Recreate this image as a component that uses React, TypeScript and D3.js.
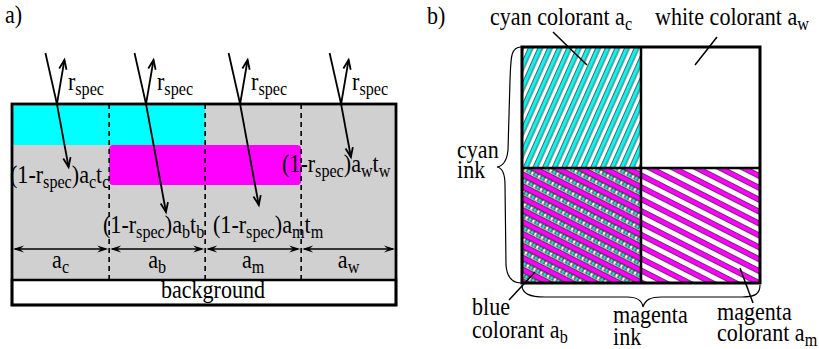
import React from "react";
import * as d3 from "d3";

const WIDTH = 819;
const HEIGHT = 349;
const FONT = "Liberation Serif, DejaVu Serif, serif";

// ---------- Panel a data ----------
const areaNames = ["c", "b", "m", "w"];
const areaShares = [0.253, 0.25, 0.25, 0.247];
// depth boundaries: surface, cyan bottom, magenta bottom, substrate bottom, background bottom
const layerDepths = [0, 41, 81, 176, 201];
const dimDepth = 145;
const dimLabelDepth = 164;
const cyanSpan = [0, 2]; // covers areas c and b
const magentaSpan = [1, 3]; // covers areas b and m
const rayPositions = [0.117, 0.349, 0.594, 0.857];
const rayTransDepths = [63, 108, 101, 53];
const transLabels = [
  "(1-r_{spec})a_{c}t_{c}",
  "(1-r_{spec})a_{b}t_{b}",
  "(1-r_{spec})a_{m}t_{m}",
  "(1-r_{spec})a_{w}t_{w}",
];
const transLabelPos: [number, number][] = [
  [10, 183],
  [103, 233],
  [213, 233],
  [282, 172],
];

// ---------- Panel b data ----------
const cyanInkShare = 0.5; // column share
const magentaInkShare = 0.487; // row share from bottom

// ---------- helpers ----------
function rich(s: string, subSize: number, shift: number) {
  const out: React.ReactNode[] = [];
  const re = /_\{([^}]*)\}/g;
  let last = 0;
  let m: RegExpExecArray | null;
  let inSub = false;
  let k = 0;
  while ((m = re.exec(s))) {
    const before = s.slice(last, m.index);
    if (before) {
      out.push(
        <tspan key={k++} dy={inSub ? -shift : 0}>
          {before}
        </tspan>
      );
      inSub = false;
    }
    out.push(
      <tspan key={k++} dy={inSub ? 0 : shift} fontSize={subSize}>
        {m[1]}
      </tspan>
    );
    inSub = true;
    last = m.index + m[0].length;
  }
  const rest = s.slice(last);
  if (rest) {
    out.push(
      <tspan key={k++} dy={inSub ? -shift : 0}>
        {rest}
      </tspan>
    );
  }
  return out;
}

function Label({
  x,
  y,
  s,
  anchor = "start",
}: {
  x: number;
  y: number;
  s: string;
  anchor?: string;
}) {
  return (
    <text
      transform={`translate(${x},${y}) scale(0.85,1)`}
      style={{ fontFamily: FONT, fontSize: "26px" }}
      textAnchor={anchor as any}
      fill="#000"
      stroke="none"
    >
      {rich(s, 19, 5)}
    </text>
  );
}

function openHead(tip: [number, number], from: [number, number], len = 10, ang = 0.38) {
  const a = Math.atan2(from[1] - tip[1], from[0] - tip[0]);
  const p1 = [tip[0] + len * Math.cos(a + ang), tip[1] + len * Math.sin(a + ang)];
  const p2 = [tip[0] + len * Math.cos(a - ang), tip[1] + len * Math.sin(a - ang)];
  return `M${p1[0]},${p1[1]}L${tip[0]},${tip[1]}L${p2[0]},${p2[1]}`;
}

function stealthHead(tip: [number, number], dir: number, len = 11, hw = 3.6) {
  const bx = tip[0] - dir * len;
  const nx = tip[0] - dir * len * 0.65;
  return `M${tip[0]},${tip[1]}L${bx},${tip[1] - hw}L${nx},${tip[1]}L${bx},${tip[1] + hw}Z`;
}

export default function App() {
  const xA = d3.scaleLinear().domain([0, 1]).range([12, 396]);
  const yA = d3.scaleLinear().domain([0, 201]).range([104, 305]);
  const bounds = [0, ...Array.from(d3.cumsum(areaShares))];

  const xB = d3.scaleLinear().domain([0, 1]).range([522, 760]);
  const yB = d3.scaleLinear().domain([0, 1]).range([47, 283]);
  const xSplit = xB(cyanInkShare);
  const ySplit = yB(1 - magentaInkShare);

  const surfaceY = yA(layerDepths[0]);
  const cyanC = "#14f0ec";
  const magC = "#ff00ff";

  return (
    <svg
      width={WIDTH}
      height={HEIGHT}
      style={{ position: "absolute", left: 0, top: 0, background: "#fff" }}
    >
      <defs>
        <pattern
          id="cyanHatch"
          patternUnits="userSpaceOnUse"
          width={20}
          height={8.8}
          patternTransform="rotate(-66)"
        >
          <rect width={20} height={8.8} fill="#fff" />
          <rect y={0.4} width={20} height={4.6} fill={cyanC} />
          <line x1={0} x2={20} y1={0.4} y2={0.4} stroke="#000" strokeWidth={0.6} />
          <line x1={0} x2={20} y1={5.0} y2={5.0} stroke="#000" strokeWidth={0.6} />
        </pattern>
        <pattern
          id="magHatch"
          patternUnits="userSpaceOnUse"
          width={20}
          height={10.6}
          patternTransform="rotate(27)"
        >
          <rect width={20} height={10.6} fill="#fff" />
          <rect y={0.4} width={20} height={5} fill={magC} />
          <line x1={0} x2={20} y1={0.4} y2={0.4} stroke="#000" strokeWidth={0.6} />
          <line x1={0} x2={20} y1={5.4} y2={5.4} stroke="#000" strokeWidth={0.6} />
        </pattern>
        <pattern
          id="blueHatch"
          patternUnits="userSpaceOnUse"
          width={7.6}
          height={10.6}
          patternTransform="rotate(27)"
        >
          <rect width={7.6} height={10.6} fill="#fff" />
          <rect y={0.4} width={7.6} height={5} fill={magC} />
          <line x1={0} x2={7.6} y1={0.4} y2={0.4} stroke="#000" strokeWidth={0.6} />
          <line x1={0} x2={7.6} y1={5.4} y2={5.4} stroke="#000" strokeWidth={0.6} />
          <rect x={0.5} y={6.4} width={3.2} height={3.3} fill={cyanC} stroke="#000" strokeWidth={0.45} />
          <rect x={4.3} y={6.4} width={2.9} height={3.3} fill="#fff" stroke="#000" strokeWidth={0.45} />
        </pattern>
      </defs>

      {/* ================= Panel a ================= */}
      <Label x={5} y={23} s="a)" />

      <rect
        x={xA(0)}
        y={yA(layerDepths[0])}
        width={xA(1) - xA(0)}
        height={yA(layerDepths[3]) - yA(layerDepths[0])}
        fill="#d0d0d0"
      />
      <rect
        x={xA(bounds[cyanSpan[0]])}
        y={yA(layerDepths[0])}
        width={xA(bounds[cyanSpan[1]]) - xA(bounds[cyanSpan[0]])}
        height={yA(layerDepths[1]) - yA(layerDepths[0])}
        rx={3}
        fill="#00ffff"
      />
      <rect
        x={xA(bounds[magentaSpan[0]])}
        y={yA(layerDepths[1])}
        width={xA(bounds[magentaSpan[1]]) - xA(bounds[magentaSpan[0]])}
        height={yA(layerDepths[2]) - yA(layerDepths[1])}
        rx={4}
        fill={magC}
      />
      {bounds.slice(1, -1).map((b, i) => (
        <line
          key={"d" + i}
          x1={xA(b)}
          x2={xA(b)}
          y1={yA(layerDepths[0])}
          y2={yA(layerDepths[3])}
          stroke="#000"
          strokeWidth={1.6}
          strokeDasharray="5,4"
        />
      ))}
      {areaNames.map((n, i) => {
        const x0 = xA(bounds[i]);
        const x1 = xA(bounds[i + 1]);
        const y = yA(dimDepth);
        return (
          <g key={"dim" + i}>
            <line x1={x0 + 3} x2={x1 - 3} y1={y} y2={y} stroke="#000" strokeWidth={1.3} />
            <path d={stealthHead([x0 + 1, y], -1)} fill="#000" />
            <path d={stealthHead([x1 - 1, y], 1)} fill="#000" />
            <Label x={(x0 + x1) / 2} y={yA(dimLabelDepth)} s={`a_{${n}}`} anchor="middle" />
          </g>
        );
      })}
      {transLabels.map((t, i) => (
        <Label key={"tl" + i} x={transLabelPos[i][0]} y={transLabelPos[i][1]} s={t} />
      ))}
      <rect
        x={xA(0)}
        y={yA(layerDepths[3])}
        width={xA(1) - xA(0)}
        height={yA(layerDepths[4]) - yA(layerDepths[3])}
        fill="#fff"
        stroke="#000"
        strokeWidth={2.5}
      />
      <Label x={(xA(0) + xA(1)) / 2 + 9} y={298} s="background" anchor="middle" />
      <rect
        x={xA(0)}
        y={yA(layerDepths[0])}
        width={xA(1) - xA(0)}
        height={yA(layerDepths[4]) - yA(layerDepths[0])}
        fill="none"
        stroke="#000"
        strokeWidth={2.8}
      />
      {rayPositions.map((p, i) => {
        const hx = xA(p);
        const hy = surfaceY;
        const inStart: [number, number] = [hx - 11.5, hy - 51];
        const refl: [number, number] = [hx + 7.5, hy - 44];
        const d = rayTransDepths[i];
        const trans: [number, number] = [hx + 0.185 * d, hy + d];
        return (
          <g key={"ray" + i}>
            <g stroke="#000" strokeWidth={1.8} fill="none">
              <line x1={inStart[0]} y1={inStart[1]} x2={hx} y2={hy} />
              <line x1={hx} y1={hy} x2={refl[0]} y2={refl[1]} />
              <path d={openHead(refl, [hx, hy])} />
              <line x1={hx} y1={hy} x2={trans[0]} y2={trans[1]} />
              <path d={openHead(trans, [hx, hy])} />
            </g>
            <Label x={hx + 11} y={90} s="r_{spec}" />
          </g>
        );
      })}

      {/* ================= Panel b ================= */}
      <Label x={427} y={24} s="b)" />
      <rect x={xB(0)} y={yB(0)} width={xSplit - xB(0)} height={ySplit - yB(0)} fill="url(#cyanHatch)" />
      <rect x={xSplit} y={yB(0)} width={xB(1) - xSplit} height={ySplit - yB(0)} fill="#fff" />
      <rect x={xB(0)} y={ySplit} width={xSplit - xB(0)} height={yB(1) - ySplit} fill="url(#blueHatch)" />
      <rect x={xSplit} y={ySplit} width={xB(1) - xSplit} height={yB(1) - ySplit} fill="url(#magHatch)" />
      <line x1={xSplit} x2={xSplit} y1={yB(0)} y2={yB(1)} stroke="#000" strokeWidth={2.5} />
      <line x1={xB(0)} x2={xB(1)} y1={ySplit} y2={ySplit} stroke="#000" strokeWidth={2.5} />
      <rect
        x={xB(0)}
        y={yB(0)}
        width={xB(1) - xB(0)}
        height={yB(1) - yB(0)}
        fill="none"
        stroke="#000"
        strokeWidth={3}
      />

      <path
        d={`M521,47 C510,47 511,60 510,80 L508,150 C507,160 503,166 497,167 C503,168 505,175 505,185 L506,265 C507,278 512,283 521,283`}
        fill="none"
        stroke="#000"
        strokeWidth={1.2}
      />
      <path
        d={`M522,285 C522,294 530,297 545,297 L627,297 C637,297 642,300 643,307 C645,300 650,297 662,297 L742,297 C755,297 760,294 760,285`}
        fill="none"
        stroke="#000"
        strokeWidth={1.2}
      />

      <g stroke="#000" strokeWidth={1.5}>
        <line x1={553} y1={32} x2={587} y2={65} />
        <line x1={717} y1={37} x2={695} y2={65} />
        <line x1={509} y1={300} x2={535} y2={272} />
        <line x1={753} y1={303} x2={740} y2={268} />
      </g>

      <Label x={490} y={25} s="cyan colorant a_{c}" />
      <Label x={655} y={25} s="white colorant a_{w}" />
      <Label x={457} y={158} s="cyan" />
      <Label x={457} y={178} s="ink" />
      <Label x={472} y={315} s="blue" />
      <Label x={472} y={338} s="colorant a_{b}" />
      <Label x={613} y={323} s="magenta" />
      <Label x={613} y={345} s="ink" />
      <Label x={717} y={320} s="magenta" />
      <Label x={717} y={341} s="colorant a_{m}" />
    </svg>
  );
}
